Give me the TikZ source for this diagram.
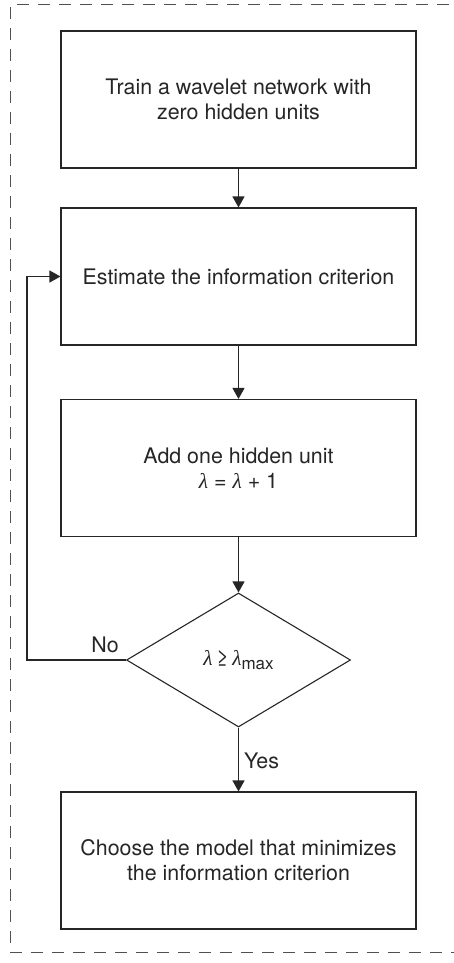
\documentclass[tikz,border=0pt]{standalone}
\usepackage{fontspec}
\setmainfont{TeX Gyre Heros}
\newfontfamily\lamfont{Liberation Serif}
\usetikzlibrary{shapes.geometric,arrows.meta}
\definecolor{ink}{HTML}{262626}
\definecolor{frame}{HTML}{505050}
\newcommand{\lam}{{\lamfont\itshape λ}}
\tikzset{
  procbox/.style={draw=ink, line width=1.1pt, rectangle, minimum width=355pt, minimum height=137pt,
    inner sep=0pt, align=center, text=ink, font=\fontsize{21.4}{24.8}\selectfont},
  decbox/.style={draw=ink, line width=1.1pt, diamond, minimum width=224pt, minimum height=134pt,
    inner sep=0pt, text=ink, font=\fontsize{21.4}{24.8}\selectfont},
  conn/.style={draw=ink, line width=1.1pt, -{Triangle[length=11pt,width=12pt]}},
  lbl/.style={text=ink, font=\fontsize{21.4}{24.8}\selectfont, inner sep=0pt},
  borderline/.style={draw=frame, line width=1pt, dash pattern=on 12pt off 9pt}
}
\begin{document}
\begin{tikzpicture}[x=1pt,y=-1pt]
\useasboundingbox (0,0) rectangle (454,963);
\clip (0,0) rectangle (454,963);
\fill[white] (0,0) rectangle (454,963);
\draw[borderline] (470,5) -- (10,5) -- (10,952) -- (470,952);

\node[procbox] (b1) at (238.5,99.5) {Train a wavelet network with\\zero hidden units};
\node[procbox] (b2) at (238.5,276.5) {Estimate the information criterion};
\node[procbox] (b3) at (238.5,468) {Add one hidden unit\\\lam\ = \lam\ + 1};
\node[decbox] (d) at (238.5,660) {\lam\,≥\,\lam\raisebox{-0.35ex}{\fontsize{17}{17}\selectfont max}};
\node[procbox] (b4) at (238.5,860.5) {Choose the model that minimizes\\the information criterion};
\coordinate (fb) at (27,660);

\draw[conn] (b1.south) -- (b2.north);
\draw[conn] (b2.south) -- (b3.north);
\draw[conn] (b3.south) -- (d.north);
\draw[conn] (d.south) -- node[lbl, anchor=west, xshift=5pt, yshift=-1pt] (yes) {Yes} (b4.north);
\draw[conn] (d.west) -- (fb) |- (b2.west);
\node[lbl, anchor=south east] (no) at (119,653) {No};
\end{tikzpicture}
\end{document}
